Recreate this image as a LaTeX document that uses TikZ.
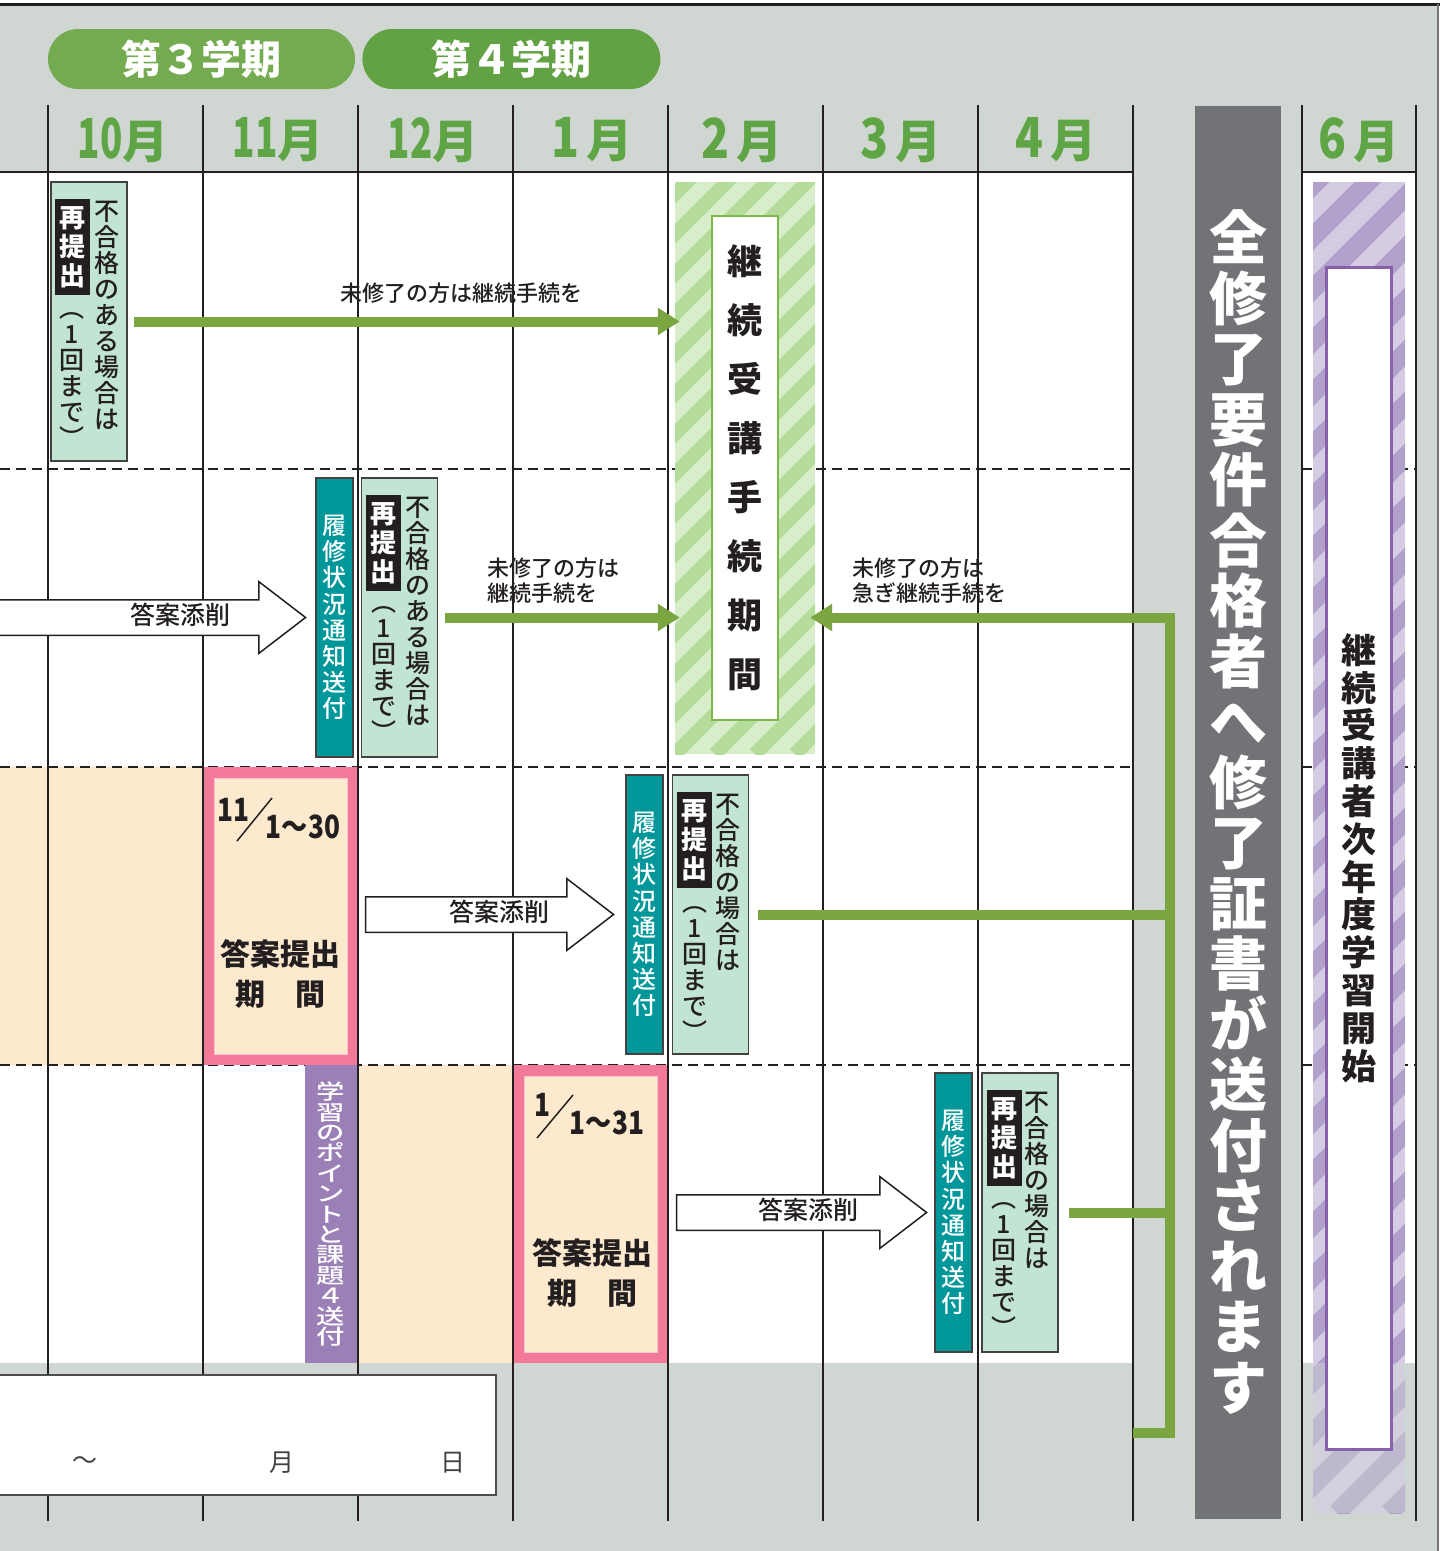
\documentclass[tikz,border=0pt]{standalone}
\usepackage{fontspec}
\setmainfont{Noto Sans CJK JP}
\newfontfamily\jpmed{Noto Sans CJK JP Medium}
\usepackage{graphicx}
\usetikzlibrary{arrows.meta,positioning,shapes.arrows}

\definecolor{bggray}{HTML}{D0D7D3}
\definecolor{inkc}{HTML}{231F20}
\definecolor{semA}{HTML}{74AB50}
\definecolor{semB}{HTML}{63A244}
\definecolor{monthc}{HTML}{5FA545}
\definecolor{peachc}{HTML}{FDE9CD}
\definecolor{pinkc}{HTML}{F27A98}
\definecolor{mintc}{HTML}{C2E4D2}
\definecolor{tealc}{HTML}{00979B}
\definecolor{lilac}{HTML}{9B80B7}
\definecolor{linegreen}{HTML}{7AA541}
\definecolor{gstripeA}{HTML}{D8EDCA}
\definecolor{gstripeB}{HTML}{B5DC9B}
\definecolor{gframe}{HTML}{7DB84A}
\definecolor{pstripeA}{HTML}{D5CCE4}
\definecolor{pstripeB}{HTML}{B0A0CB}
\definecolor{pframe}{HTML}{8762AA}
\definecolor{barc}{HTML}{727377}

\newcommand{\tallnum}[1]{\scalebox{0.8}[1.2]{#1}}
\newcommand{\roundnum}[1]{\scalebox{1}[1.2]{#1}}
\newcommand{\condnum}[1]{\scalebox{0.82}[1]{#1}}

\begin{document}
\begin{tikzpicture}[x=1pt, y=-1pt,
  sem/.style={rounded corners=30pt, minimum height=60pt, text=white, inner sep=0, font=\bfseries\fontsize{40}{40}\selectfont},
  month/.style={text=monthc, inner sep=0, font=\bfseries\fontsize{46}{46}\selectfont},
  monthline/.style={inkc, line width=2.5pt},
  rowline/.style={inkc, line width=2.5pt, dash pattern=on 10pt off 6pt},
  mintbox/.style={draw=inkc!85, line width=1.5pt, fill=mintc, minimum width=76pt, minimum height=279pt, inner sep=0},
  tealbox/.style={draw=inkc!85, line width=1.5pt, fill=tealc, minimum width=37pt, minimum height=279pt, inner sep=0, text=white, align=center, font=\jpmed\fontsize{24}{26.2}\selectfont},
  vtext/.style={inner sep=0, align=center, text=inkc, font=\jpmed\fontsize{25}{26}\selectfont},
  blackbox/.style={fill=inkc, text=white, minimum width=35pt, inner xsep=0, inner ysep=7pt, align=center, font=\bfseries\fontsize{26}{29}\selectfont},
  pinkbox/.style={draw=pinkc, line width=11pt, fill=peachc, minimum width=144pt, minimum height=287pt, inner sep=0},
  datenum/.style={inner sep=0, text=inkc, font=\bfseries\fontsize{32}{32}\selectfont},
  kikantext/.style={inner sep=0, align=center, text=inkc, font=\bfseries\fontsize{30}{40}\selectfont},
  blockarrow/.style={single arrow, draw=inkc, fill=white, line width=1.5pt, single arrow head extend=18pt, single arrow tip angle=75, inner xsep=4pt, inner ysep=6pt, text height=18pt, text depth=4pt, align=right, text=inkc, font=\jpmed\fontsize{25}{25}\selectfont},
  note/.style={inner sep=0, text=inkc, align=left, font=\jpmed\fontsize{22}{25}\selectfont},
  garrow/.style={linegreen, line width=10pt, -{Triangle[length=22pt,width=26pt]}},
  gline/.style={linegreen, line width=10pt},
  gstripes/.style={fill=gstripeA, path picture={\foreach \s in {-600,-560,...,160} \draw[gstripeB, line width=14pt] ([xshift=\s]path picture bounding box.south west) -- ++(700,-700);}},
  pstripes/.style={fill=pstripeA, path picture={\foreach \s in {-1380,-1328,...,120} \draw[pstripeB, line width=19pt] ([xshift=\s]path picture bounding box.south west) -- ++(1500,-1500);}}]

  \useasboundingbox (0,0) rectangle (1442,1551);
  % background and table area
  \fill[white] (0,0) rectangle (1442,1551);
  \fill[bggray] (0,4) rectangle (1438,1551);
  \fill[white] (0,172) rectangle (1133,1363);
  \fill[white] (1302,172) rectangle (1416,1363);
  \fill[peachc] (0,767) rectangle (203,1065);
  \fill[peachc] (358,1065) rectangle (513,1363);
  \foreach \y in {469,767,1065} {
    \draw[rowline] (0,\y) -- (1133,\y);
    \draw[rowline] (1302,\y) -- (1416,\y);
  }

  % submission periods
  \node[pinkbox] (sub1) at (280.5,916) {};
  \node[pinkbox] (sub2) at (590.5,1214) {};
  \draw[pinkc!45, line width=1pt] (214,778) rectangle (347,1054);
  \draw[pinkc!45, line width=1pt] (524,1076) rectangle (657,1352);

  % month grid
  \foreach \x in {48,203,...,1133} \draw[monthline] (\x,105) -- (\x,1521);
  \draw[monthline] (1302,105) -- (1302,1521);
  \draw[monthline] (1416,105) -- (1416,1521);
  \draw[monthline] (0,172) -- (1133,172);
  \draw[monthline] (1302,172) -- (1416,172);
  \draw[inkc, line width=3pt] (0,4) -- (1440,4);
  \draw[black!55, line width=2pt] (1438,4) -- (1438,1551);

  % semesters and months
  \node[sem, fill=semA, minimum width=307pt] (sem3) at (201.5,59) {第３学期};
  \node[sem, fill=semB, minimum width=298pt, right=7pt of sem3] (sem4) {第４学期};
  \node[month] (m10) at (123,140) {\tallnum{10}月};
  \node[month] (m11) at (278,140) {\tallnum{11}月};
  \node[month] (m12) at (433,140) {\tallnum{12}月};
  \node[month] (m1) at (592,140) {\roundnum{1}\hspace{6pt}月};
  \node[month] (m2) at (742,140) {\roundnum{2}\,月};
  \node[month] (m3) at (901,140) {\roundnum{3}\,月};
  \node[month] (m4) at (1056,140) {\roundnum{4}\,月};
  \node[month] (m6) at (1359,140) {\roundnum{6}\,月};

  % continuation period
  \node[gstripes, minimum width=140pt, minimum height=572pt, inner sep=0] (keizoku) at (745,468) {};
  \node[draw=gframe, line width=2pt, fill=white, minimum width=66pt, minimum height=504pt, inner sep=0, align=center, text=inkc, font=\bfseries\fontsize{35}{59}\selectfont] (kikan) at (keizoku) {継\\続\\受\\講\\手\\続\\期\\間};

  % certificate bar and June column
  \node[fill=barc, minimum width=86pt, minimum height=1413pt, inner sep=0, align=center, text=white, font=\bfseries\fontsize{58}{60.5}\selectfont] (zen) at (1238,812) {全\\修\\了\\要\\件\\合\\格\\者\\へ\\修\\了\\証\\書\\が\\送\\付\\さ\\れ\\ま\\す};
  \node[pstripes, minimum width=92pt, minimum height=1331pt, inner sep=0] (jinen) at (1359,847.5) {};
  \fill[bggray, opacity=0.45] (1313,1363) rectangle (1405,1513);
  \node[draw=pframe, line width=3pt, fill=white, minimum width=65pt, minimum height=1182pt, inner sep=0, align=center, text=inkc, font=\bfseries\fontsize{35}{37.8}\selectfont] (kaishi) at (1358.5,858) {継\\続\\受\\講\\者\\次\\年\\度\\学\\習\\開\\始};

  % row 1
  \node[mintbox] (re1) at (89,321.5) {};
  \node[vtext, anchor=north] (re1a) at ([xshift=18pt, yshift=-20pt]re1.north) {不\\合\\格\\の\\あ\\る\\場\\合\\は};
  \node[blackbox, anchor=north] (re1b) at ([xshift=-17pt, yshift=-18pt]re1.north) {再\\提\\出};
  \node[vtext, anchor=north] (re1c) at ([xshift=-17pt, yshift=-131pt]re1.north) {︵\\1\\回\\ま\\で\\︶};
  \draw[garrow, shorten <=6pt, shorten >=-5pt] (re1) -- (re1 -| keizoku.west);
  \node[note] (n1) at (461,293) {未修了の方は継続手続を};

  % row 2
  \node[blockarrow, minimum height=345pt, text width=217pt] (ans1) at (121.5,617.5) {答案添削};
  \node[tealbox] (tc2) at (334.5,617.5) {履\\修\\状\\況\\通\\知\\送\\付};
  \node[mintbox] (re2) at (399.5,617.5) {};
  \node[vtext, anchor=north] (re2a) at ([xshift=18pt, yshift=-20pt]re2.north) {不\\合\\格\\の\\あ\\る\\場\\合\\は};
  \node[blackbox, anchor=north] (re2b) at ([xshift=-16pt, yshift=-18pt]re2.north) {再\\提\\出};
  \node[vtext, anchor=north] (re2c) at ([xshift=-16pt, yshift=-129pt]re2.north) {︵\\1\\回\\ま\\で\\︶};
  \draw[garrow, shorten <=7pt, shorten >=-5pt] (re2) -- (re2 -| keizoku.west);
  \node[note, anchor=west] (n2) at (487,580.5) {未修了の方は\\継続手続を};
  \node[note, anchor=west] (n3) at (852,580.5) {未修了の方は\\急ぎ継続手続を};

  % row 3
  \node[datenum] (d1a) at (233.5,809.5) {\condnum{11}};
  \draw[inkc, line width=1.5pt] (237,841) -- (272,798);
  \node[datenum] (d1b) at (303,826.5) {\condnum{1～30}};
  \node[kikantext] (k1) at (280.5,974) {答案提出\\期　間};
  \node[blockarrow, minimum height=248pt, text width=142pt] (ans2) at (478,914.5) {答案添削};
  \node[tealbox] (tc3) at (644.5,914.5) {履\\修\\状\\況\\通\\知\\送\\付};
  \node[mintbox] (re3) at (710.5,914.5) {};
  \node[vtext, anchor=north] (re3a) at ([xshift=17pt, yshift=-20pt]re3.north) {不\\合\\格\\の\\場\\合\\は};
  \node[blackbox, anchor=north] (re3b) at ([xshift=-16pt, yshift=-18pt]re3.north) {再\\提\\出};
  \node[vtext, anchor=north] (re3c) at ([xshift=-16pt, yshift=-132pt]re3.north) {︵\\1\\回\\ま\\で\\︶};

  % row 4
  \node[fill=lilac, minimum width=52pt, minimum height=298pt, inner sep=0] (point) at (331,1214) {};
  \node[inner sep=0, text=white, font=\jpmed\fontsize{21}{20.4}\selectfont] (pointtxt) at (point) {\scalebox{1.35}[1]{\parbox{24pt}{\centering 学\\習\\の\\ポ\\イ\\ン\\ト\\と\\課\\題\\４\\送\\付}}};
  \node[datenum] (d2a) at (542.5,1105) {\condnum{1}};
  \draw[inkc, line width=1.5pt] (537,1138) -- (573,1095);
  \node[datenum] (d2b) at (607,1122.5) {\condnum{1～31}};
  \node[kikantext] (k2) at (592,1272.5) {答案提出\\期　間};
  \node[blockarrow, minimum height=250pt, text width=136pt] (ans3) at (790,1212.5) {答案添削};
  \node[tealbox] (tc4) at (953.5,1212.5) {履\\修\\状\\況\\通\\知\\送\\付};
  \node[mintbox] (re4) at (1020,1212.5) {};
  \node[vtext, anchor=north] (re4a) at ([xshift=17pt, yshift=-20pt]re4.north) {不\\合\\格\\の\\場\\合\\は};
  \node[blackbox, anchor=north] (re4b) at ([xshift=-16pt, yshift=-18pt]re4.north) {再\\提\\出};
  \node[vtext, anchor=north] (re4c) at ([xshift=-16pt, yshift=-130pt]re4.north) {︵\\1\\回\\ま\\で\\︶};

  % return path to the continuation period
  \coordinate (foot) at (1133,1433);
  \coordinate (turn) at (1170,617.5);
  \draw[gline, shorten <=9pt] (re3) -- (re3 -| turn);
  \draw[gline, shorten <=10pt] (re4) -- (re4 -| turn);
  \draw[garrow, shorten >=-5pt] (foot) -| (turn) -- (turn -| keizoku.east);

  % date entry box
  \node[draw=inkc!80, line width=1.5pt, fill=white, minimum width=516pt, minimum height=120pt, inner sep=0] (datebox) at (238,1435) {};
  \node[inner sep=0, text=inkc!85, font=\fontsize{25}{25}\selectfont] (kara) at (85,1463) {～};
  \node[inner sep=0, text=inkc!85, font=\fontsize{25}{25}\selectfont] (tsuki) at (282,1463) {月};
  \node[inner sep=0, text=inkc!85, font=\fontsize{25}{25}\selectfont] (hi) at (453,1463) {日};
\end{tikzpicture}
\end{document}
